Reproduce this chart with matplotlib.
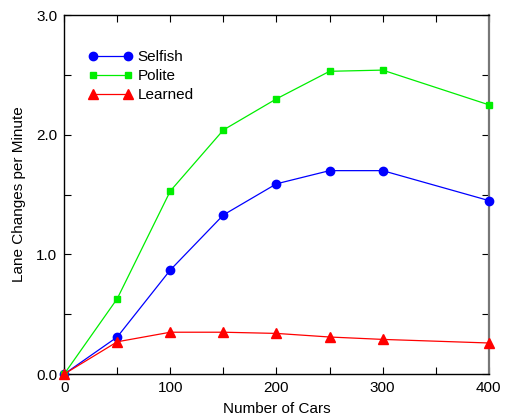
import matplotlib
matplotlib.use("Agg")
import matplotlib.pyplot as plt
from matplotlib.ticker import MultipleLocator, FormatStrFormatter

plt.rcParams['font.family'] = ['Liberation Sans', 'DejaVu Sans']

cars = [0, 50, 100, 150, 200, 250, 300, 400]
selfish = [0.0, 0.31, 0.87, 1.33, 1.59, 1.70, 1.70, 1.45]
polite = [0.0, 0.63, 1.53, 2.04, 2.30, 2.53, 2.54, 2.25]
learned = [0.0, 0.27, 0.35, 0.35, 0.34, 0.31, 0.29, 0.26]

fig = plt.figure(figsize=(5.05, 4.18), dpi=100)
ax = fig.add_axes([0.127, 0.105, 0.841, 0.859])

ax.plot(cars, selfish, color='#0000ff', marker='o', markersize=6, lw=0.9,
        label='Selfish', clip_on=False, zorder=3)
ax.plot(cars, polite, color='#00ee00', marker='s', markersize=5, lw=0.9,
        label='Polite', clip_on=False, zorder=3)
ax.plot(cars, learned, color='#ff0000', marker='^', markersize=7, lw=0.9,
        label='Learned', clip_on=False, zorder=3)

ax.set_xlim(0, 400)
ax.set_ylim(0, 3.0)
ax.xaxis.set_major_locator(MultipleLocator(100))
ax.xaxis.set_minor_locator(MultipleLocator(50))
ax.yaxis.set_major_locator(MultipleLocator(1.0))
ax.yaxis.set_minor_locator(MultipleLocator(0.5))
ax.yaxis.set_major_formatter(FormatStrFormatter('%.1f'))

ax.tick_params(which='both', direction='in', top=True, right=True,
               labelsize=11, width=0.8, pad=5, length=5)

for s in ['left', 'bottom', 'top']:
    ax.spines[s].set_linewidth(1.0)
    ax.spines[s].set_color('black')
ax.spines['right'].set_color('#777777')
ax.spines['right'].set_linewidth(1.6)

ax.set_xlabel('Number of Cars', fontsize=11, labelpad=5)
ax.set_ylabel('Lane Changes per Minute', fontsize=11, labelpad=7)

ax.legend(loc='upper left', bbox_to_anchor=(0.043, 0.919), borderaxespad=0,
          frameon=False, fontsize=11, handlelength=2.9, handletextpad=0.3,
          labelspacing=0.33, numpoints=2)

fig.savefig('out.png', dpi=100)
